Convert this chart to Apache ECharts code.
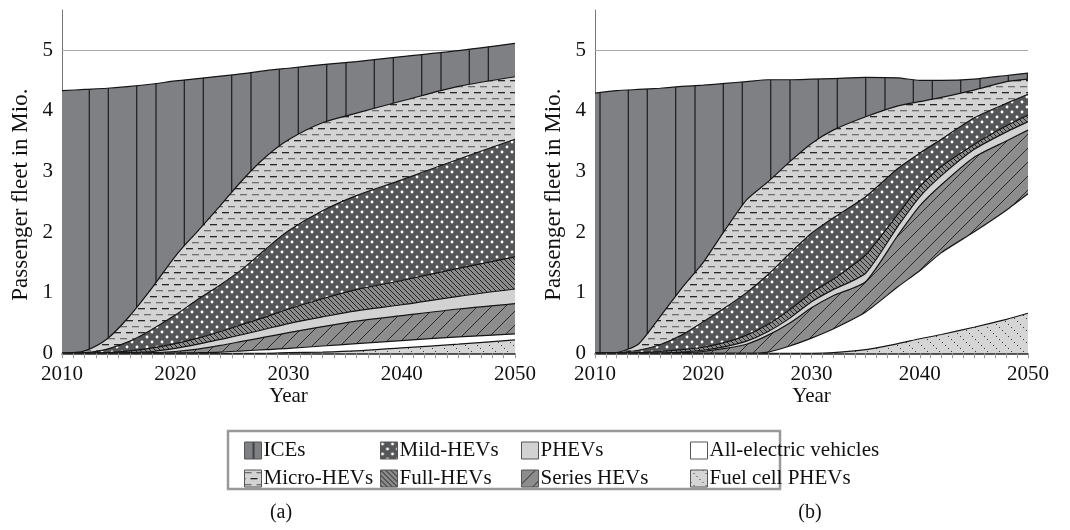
<!DOCTYPE html>
<html>
<head>
<meta charset="utf-8">
<script src="https://cdn.jsdelivr.net/npm/echarts@6/dist/echarts.min.js"></script>
<style>
  html, body { margin: 0; padding: 0; background: #ffffff; }
  #chart { width: 1070px; height: 530px; }
</style>
</head>
<body>
<div id="chart"></div>
<script>
// ---- Scenario (a): passenger fleet by powertrain, million vehicles ----
const yearsA = [2010, 2012, 2014, 2016, 2018, 2020, 2022, 2024, 2026, 2028, 2030, 2033, 2036, 2040, 2045, 2050];
const fuelCellA = [0, 0, 0, 0, 0, 0, 0, 0, 0, 0, 0.01, 0.02, 0.04, 0.09, 0.15, 0.22];
const electricA = [0, 0, 0, 0, 0, 0.005, 0.01, 0.02, 0.04, 0.06, 0.07, 0.10, 0.12, 0.12, 0.12, 0.10];
const seriesA   = [0, 0, 0, 0, 0.01, 0.025, 0.06, 0.11, 0.16, 0.21, 0.26, 0.32, 0.37, 0.41, 0.46, 0.50];
const phevA     = [0, 0, 0, 0.01, 0.02, 0.05, 0.08, 0.10, 0.11, 0.13, 0.15, 0.16, 0.17, 0.18, 0.21, 0.24];
const fullA     = [0, 0, 0.01, 0.03, 0.06, 0.08, 0.10, 0.13, 0.17, 0.20, 0.24, 0.30, 0.35, 0.40, 0.46, 0.53];
const mildA     = [0, 0.01, 0.06, 0.16, 0.31, 0.47, 0.64, 0.77, 0.92, 1.12, 1.29, 1.45, 1.55, 1.66, 1.80, 1.94];
const microA    = [0, 0.03, 0.17, 0.42, 0.69, 0.97, 1.13, 1.31, 1.47, 1.52, 1.50, 1.45, 1.36, 1.30, 1.20, 1.03];
const iceA      = [4.33, 4.31, 4.13, 3.78, 3.35, 2.89, 2.51, 2.13, 1.74, 1.42, 1.18, 0.96, 0.85, 0.73, 0.59, 0.55];

// ---- Scenario (b) ----
const yearsB = [2010, 2012, 2014, 2016, 2018, 2020, 2022, 2024, 2026, 2028, 2030, 2032, 2035, 2038, 2040, 2042, 2045, 2048, 2050];
const fuelCellB = [0, 0, 0, 0, 0, 0, 0, 0, 0, 0, 0, 0.01, 0.06, 0.16, 0.24, 0.31, 0.43, 0.56, 0.66];
const electricB = [0, 0, 0, 0, 0, 0, 0, 0, 0.02, 0.12, 0.25, 0.39, 0.62, 0.94, 1.12, 1.35, 1.57, 1.80, 1.97];
const seriesB   = [0, 0, 0, 0, 0.01, 0.03, 0.08, 0.15, 0.28, 0.38, 0.50, 0.55, 0.50, 0.85, 1.07, 1.12, 1.23, 1.14, 1.05];
const phevB     = [0, 0, 0, 0, 0.01, 0.02, 0.03, 0.05, 0.06, 0.08, 0.10, 0.10, 0.14, 0.15, 0.15, 0.15, 0.13, 0.15, 0.14];
const fullB     = [0, 0, 0.01, 0.03, 0.04, 0.05, 0.07, 0.10, 0.12, 0.14, 0.15, 0.17, 0.30, 0.20, 0.17, 0.15, 0.08, 0.10, 0.11];
const mildB     = [0, 0.01, 0.04, 0.11, 0.24, 0.42, 0.57, 0.70, 0.82, 0.93, 0.98, 1.01, 0.96, 0.75, 0.55, 0.45, 0.44, 0.37, 0.34];
const microB    = [0, 0, 0.10, 0.46, 0.77, 0.98, 1.28, 1.53, 1.53, 1.51, 1.48, 1.45, 1.32, 1.03, 0.85, 0.69, 0.46, 0.36, 0.25];
const iceB      = [4.29, 4.32, 4.20, 3.77, 3.33, 2.92, 2.42, 1.95, 1.68, 1.35, 1.06, 0.85, 0.65, 0.46, 0.35, 0.28, 0.18, 0.10, 0.10];

const yTicks = [0, 1, 2, 3, 4, 5];
const legendColumns = [
  ['ICEs', 'Micro-HEVs'],
  ['Mild-HEVs', 'Full-HEVs'],
  ['PHEVs', 'Series HEVs'],
  ['All-electric vehicles', 'Fuel cell PHEVs']
];

const FONT = 'Liberation Serif, DejaVu Serif, serif';

// ---- hatch tiles ----
function tile(w, h, bg, draw) {
  const c = document.createElement('canvas');
  c.width = w; c.height = h;
  const g = c.getContext('2d');
  g.fillStyle = bg; g.fillRect(0, 0, w, h);
  if (draw) draw(g, w, h);
  return { image: c, repeat: 'repeat' };
}
function verticalBars(offsets, w) {
  return tile(w, 4, '#7f8084', g => {
    g.fillStyle = '#1c1c1c';
    offsets.forEach(x => g.fillRect(x - 0.6, 0, 1.2, 4));
  });
}
const microFill = tile(12, 12, '#d3d3d3', g => {
  g.fillStyle = '#6e6e6e'; g.fillRect(0, 2, 7, 1.3);
  g.fillStyle = '#262626'; g.fillRect(6, 8, 6, 1.3); g.fillRect(0, 8, 1, 1.3);
});
const mildFill = tile(10, 10, '#555658', g => {
  g.fillStyle = '#ffffff';
  [[2, 2], [7, 7]].forEach(([x, y]) => { g.beginPath(); g.arc(x, y, 1.45, 0, Math.PI * 2); g.fill(); });
});
const fullFill = tile(5, 5, '#8b8b8b', g => {
  g.strokeStyle = '#222'; g.lineWidth = 1;
  g.beginPath();
  g.moveTo(-1, -1); g.lineTo(6, 6);
  g.moveTo(-1, 4); g.lineTo(1, 6);
  g.moveTo(4, -1); g.lineTo(6, 1);
  g.stroke();
});
const phevFill = '#d2d2d2';
const seriesFill = tile(14, 14, '#8d8d8d', g => {
  g.strokeStyle = '#2a2a2a'; g.lineWidth = 1;
  g.beginPath();
  g.moveTo(-1, 15); g.lineTo(15, -1);
  g.stroke();
});
const electricFill = '#ffffff';
const fuelFill = tile(12, 12, '#d5d5d5', g => {
  g.fillStyle = '#3a3a3a';
  [0, 3, 6, 9].forEach(p => g.fillRect(p, p, 1, 1));
});
const iceFillA = verticalBars([13.3, 41.7, 61, 89.3], 95);
const iceFillB = verticalBars([10.7, 30, 58.3, 77.3], 95);
const iceLegendFill = verticalBars([9], 17);

const legendStyles = {
  'ICEs': iceLegendFill,
  'Micro-HEVs': microFill,
  'Mild-HEVs': mildFill,
  'Full-HEVs': fullFill,
  'PHEVs': phevFill,
  'Series HEVs': seriesFill,
  'All-electric vehicles': electricFill,
  'Fuel cell PHEVs': fuelFill
};

// bands listed bottom to top
function bands(vals, iceFill) {
  return [
    ['Fuel cell PHEVs', vals[0], fuelFill],
    ['All-electric vehicles', vals[1], electricFill],
    ['Series HEVs', vals[2], seriesFill],
    ['PHEVs', vals[3], phevFill],
    ['Full-HEVs', vals[4], fullFill],
    ['Mild-HEVs', vals[5], mildFill],
    ['Micro-HEVs', vals[6], microFill],
    ['ICEs', vals[7], iceFill]
  ];
}

// Each band is drawn as an area from zero up to its running total; painting
// from the top band downwards lets every lower band cover the one above it.
function buildSeries(years, vals, iceFill, idx, smooth) {
  let running = years.map(() => 0);
  const edges = bands(vals, iceFill).map(([name, data, fill]) => {
    running = running.map((r, i) => r + data[i]);
    return [name, running.slice(), fill];
  });
  return edges.reverse().map(([name, upper, fill]) => {
    const s = {
      name,
      type: 'line',
      xAxisIndex: idx,
      yAxisIndex: idx,
      smooth,
      symbol: 'none',
      silent: true,
      z: 2,
      emphasis: { disabled: true },
      lineStyle: { color: '#151515', width: 1.2 },
      itemStyle: { color: '#151515' },
      areaStyle: { color: fill, opacity: 1, origin: 'start' },
      data: years.map((y, i) => [y, upper[i]])
    };
    if (name === 'ICEs') {
      s.markLine = {
        silent: true, symbol: 'none', z: 1, animation: false,
        label: { show: false },
        lineStyle: { color: '#a8a8a8', type: 'solid', width: 1 },
        data: [{ yAxis: 5 }]
      };
    }
    return s;
  });
}

function xAxis(idx) {
  return {
    type: 'value', gridIndex: idx, min: 2010, max: 2050, interval: 10, z: 3,
    axisLine: { show: true, lineStyle: { color: '#2a2a2a', width: 1.5 } },
    axisTick: { show: true, length: 5, lineStyle: { color: '#999' } },
    minorTick: { show: true, splitNumber: 10, length: 5, lineStyle: { color: '#999' } },
    splitLine: { show: false },
    axisLabel: { fontFamily: FONT, fontSize: 21, color: '#111', margin: 11, formatter: v => String(v) },
    name: 'Year', nameLocation: 'middle', nameGap: 33, nameMoveOverlap: false,
    nameTextStyle: { fontFamily: FONT, fontSize: 21, color: '#111' }
  };
}
function yAxis(idx) {
  return {
    type: 'value', gridIndex: idx, min: 0, max: 5.66,
    axisLine: { show: true, lineStyle: { color: '#777', width: 1 } },
    axisTick: { show: false },
    splitLine: { show: false },
    axisLabel: { customValues: yTicks, fontFamily: FONT, fontSize: 21, color: '#111', margin: 9 },
    name: 'Passenger fleet in Mio.', nameLocation: 'middle', nameGap: 30, nameRotate: 90,
    nameMoveOverlap: false,
    nameTextStyle: { fontFamily: FONT, fontSize: 23, color: '#111', padding: [0, 26, 0, 0] }
  };
}

const legendLeft = [244, 380, 521, 690];

const chart = echarts.init(document.getElementById('chart'), null, { renderer: 'canvas' });
chart.setOption({
  animation: false,
  backgroundColor: '#ffffff',
  grid: [
    { left: 62, top: 10, width: 453, height: 343.3 },
    { left: 595, top: 10, width: 433, height: 343.3 }
  ],
  xAxis: [xAxis(0), xAxis(1)],
  yAxis: [yAxis(0), yAxis(1)],
  legend: legendColumns.map((names, i) => ({
    orient: 'vertical', left: legendLeft[i], top: 440, padding: 0,
    itemWidth: 17, itemHeight: 17, itemGap: 7, icon: 'rect', selectedMode: false,
    textStyle: { fontFamily: FONT, fontSize: 21, color: '#111', padding: [0, 0, 0, -3] },
    data: names.map(n => ({ name: n, itemStyle: { color: legendStyles[n], borderColor: '#555', borderWidth: 1 } }))
  })),
  graphic: [
    { type: 'rect', shape: { x: 228, y: 431, width: 552, height: 58 },
      style: { fill: 'none', stroke: '#999', lineWidth: 2.5 }, silent: true },
    { type: 'text', x: 281, y: 513, style: { text: '(a)', font: '20px ' + FONT, fill: '#111', align: 'center', verticalAlign: 'middle' } },
    { type: 'text', x: 810, y: 513, style: { text: '(b)', font: '20px ' + FONT, fill: '#111', align: 'center', verticalAlign: 'middle' } }
  ],
  series: [
    ...buildSeries(yearsA, [fuelCellA, electricA, seriesA, phevA, fullA, mildA, microA, iceA], iceFillA, 0, 0.3),
    ...buildSeries(yearsB, [fuelCellB, electricB, seriesB, phevB, fullB, mildB, microB, iceB], iceFillB, 1, 0.2)
  ]
});
</script>
</body>
</html>
